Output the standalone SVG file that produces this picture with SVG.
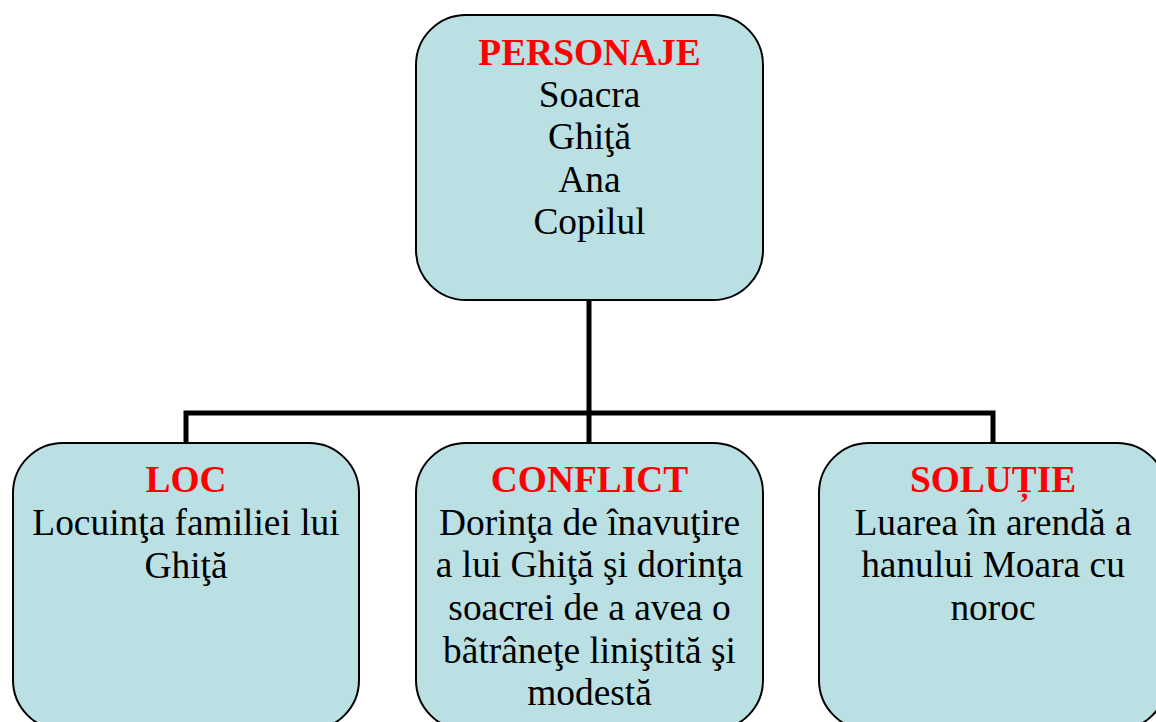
<svg xmlns="http://www.w3.org/2000/svg" width="1156" height="722" viewBox="0 0 1156 722">
<style>
.box{fill:#bbe0e3;stroke:#000;stroke-width:2}
.conn{fill:none;stroke:#000;stroke-width:5}
text{font-family:"Liberation Serif","Times New Roman",serif;font-size:37.4px;text-anchor:middle;fill:#000}
.t{font-weight:bold;fill:#ff0000}
</style>
<rect width="1156" height="722" fill="#fff"/>
<g id="connectors">
<line class="conn" x1="589" y1="300" x2="589" y2="443"/>
<polyline class="conn" points="186,443 186,413 993,413 993,443"/>
</g>
<g id="personaje">
<rect class="box" x="416" y="15" width="347" height="285" rx="50" ry="50"/>
<text x="589.5" y="65" class="t">PERSONAJE</text>
<text x="589.5" y="107">Soacra</text>
<text x="589.5" y="149">Ghiţă</text>
<text x="589.5" y="192">Ana</text>
<text x="589.5" y="234">Copilul</text>
</g>
<g id="loc">
<rect class="box" x="13" y="443" width="346" height="287" rx="50" ry="50"/>
<text x="186" y="492" class="t">LOC</text>
<text x="186" y="535">Locuinţa familiei lui</text>
<text x="186" y="578">Ghiţă</text>
</g>
<g id="conflict">
<rect class="box" x="416" y="443" width="347" height="287" rx="50" ry="50"/>
<text x="589.5" y="492" class="t">CONFLICT</text>
<text x="589.5" y="535">Dorinţa de înavuţire</text>
<text x="589.5" y="577">a lui Ghiţă şi dorinţa</text>
<text x="589.5" y="620">soacrei de a avea o</text>
<text x="589.5" y="663">bãtrâneţe liniştită şi</text>
<text x="589.5" y="705">modestă</text>
</g>
<g id="solutie">
<rect class="box" x="819" y="443" width="348" height="287" rx="50" ry="50"/>
<text x="993" y="492" class="t">SOLUȚIE</text>
<text x="993" y="535">Luarea în arendă a</text>
<text x="993" y="577">hanului Moara cu</text>
<text x="993" y="620">noroc</text>
</g>
</svg>
